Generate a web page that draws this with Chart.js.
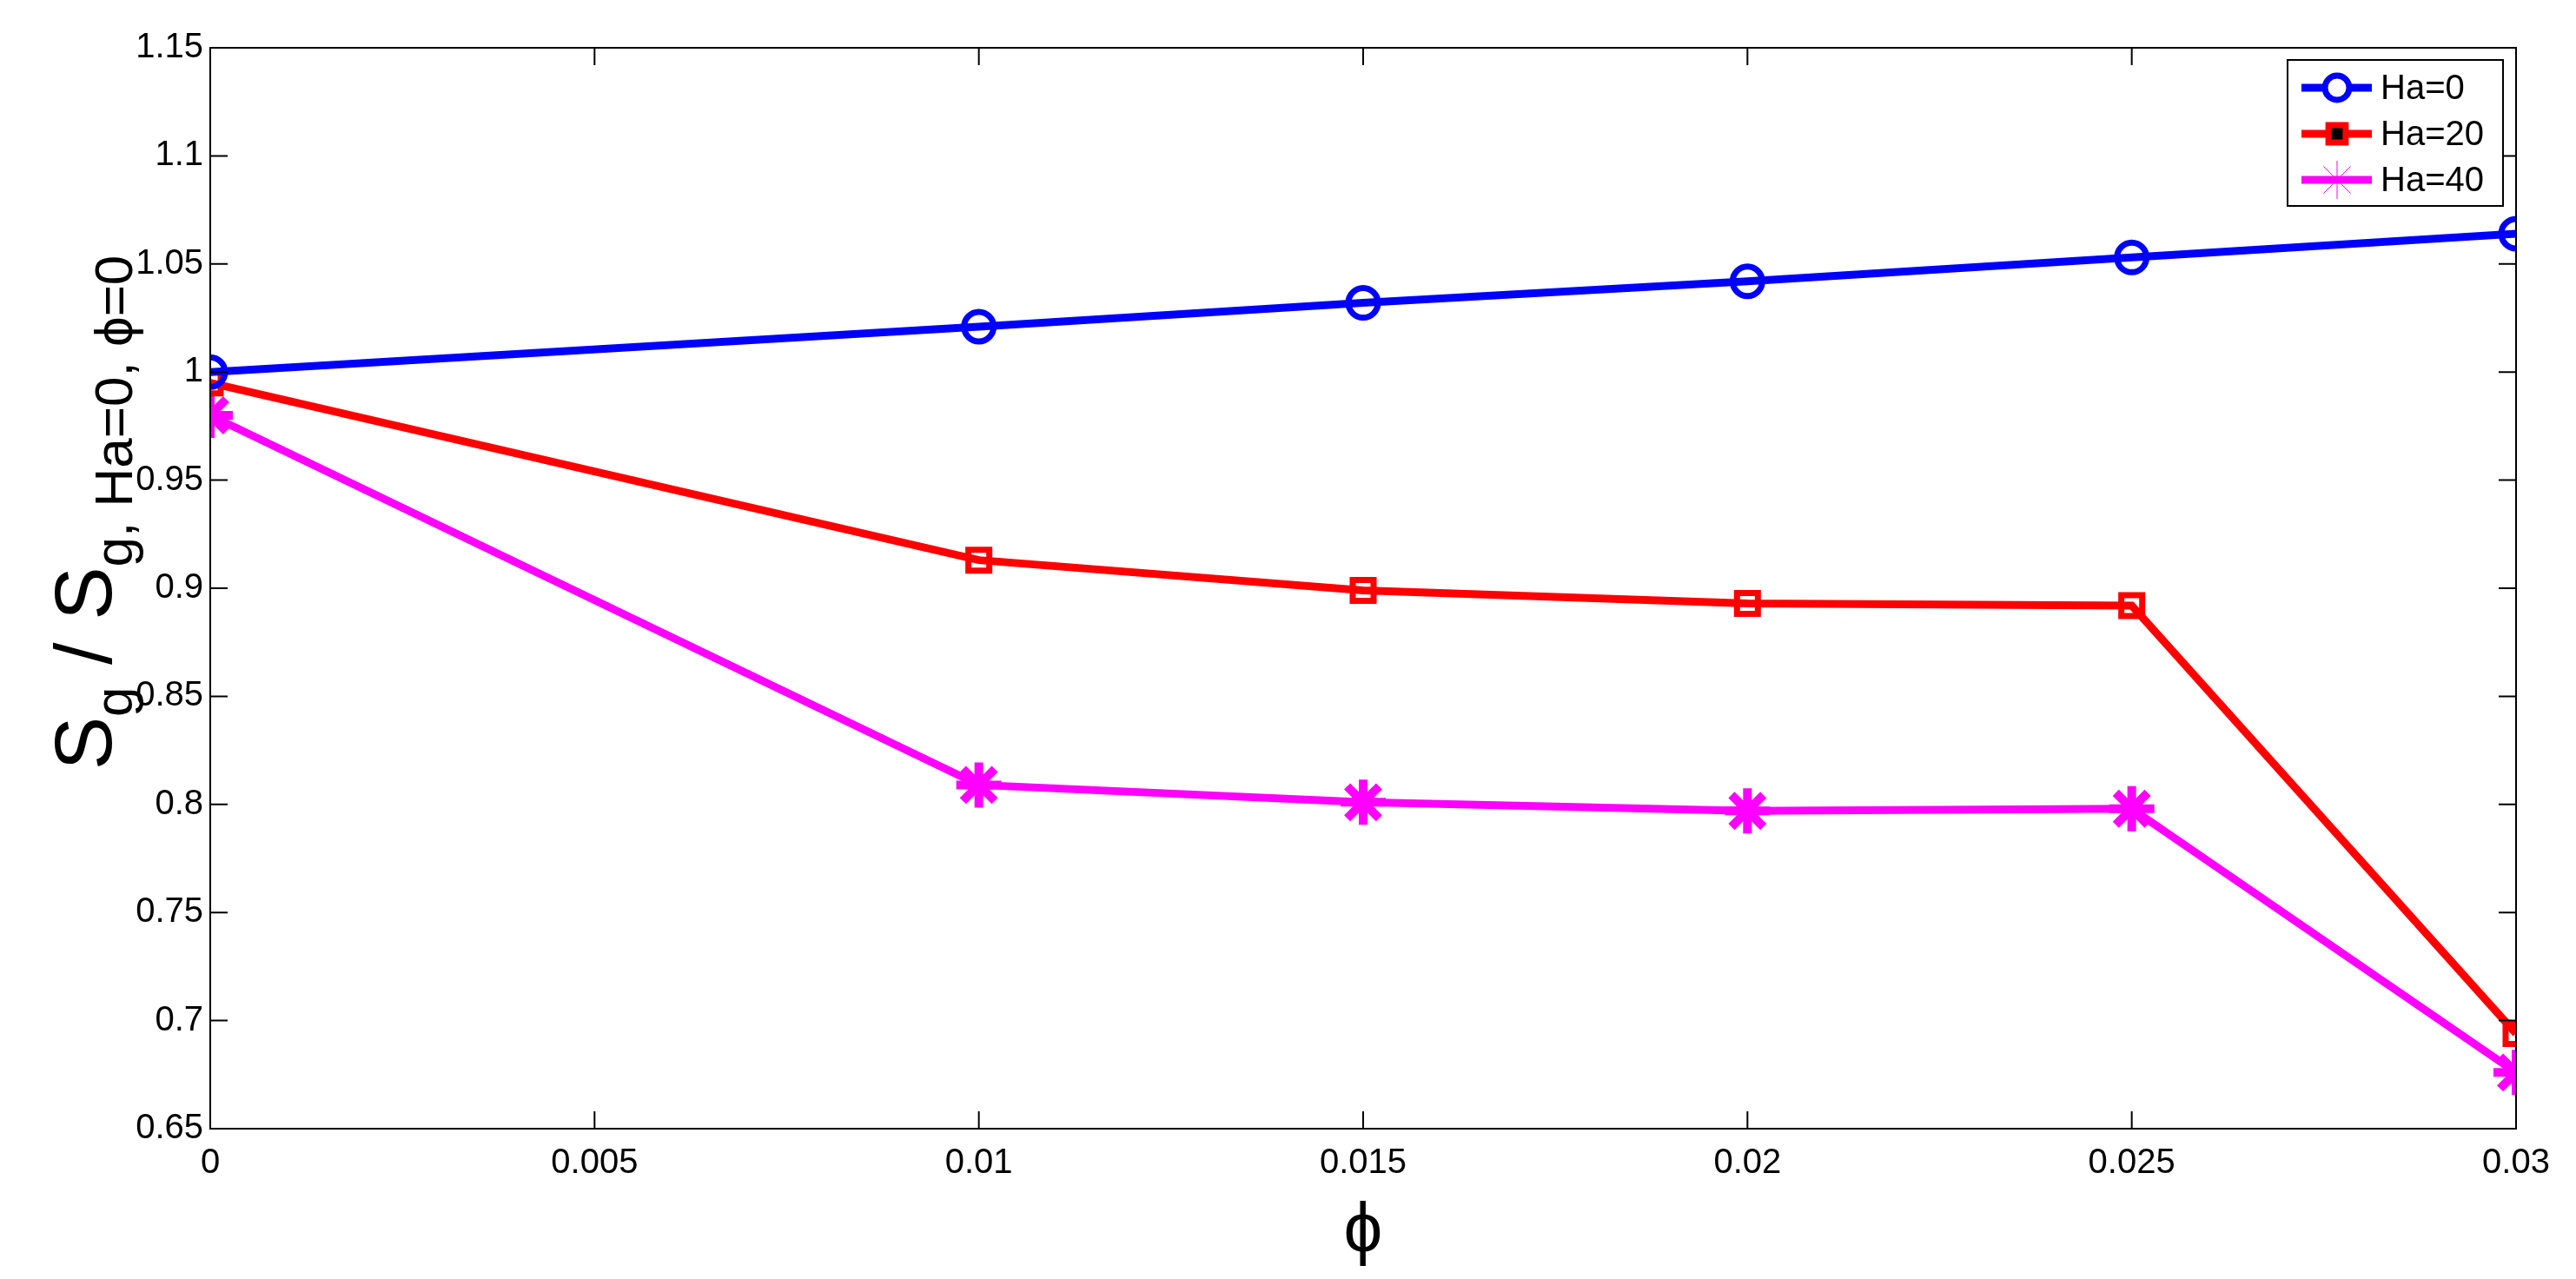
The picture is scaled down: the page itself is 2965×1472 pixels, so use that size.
<!DOCTYPE html>
<html><head><meta charset="utf-8">
<script src="https://cdn.jsdelivr.net/npm/chart.js@4/dist/chart.umd.min.js"></script>
<style>html,body{margin:0;padding:0;background:#fff}#w{width:2965px;height:1472px}</style>
</head><body><div id="w"><canvas id="c"></canvas></div>
<script>
const phi = [0, 0.01, 0.015, 0.02, 0.025, 0.03];
const ha0 = [1.000, 1.021, 1.032, 1.042, 1.053, 1.064];
const ha20 = [0.995, 0.913, 0.899, 0.893, 0.892, 0.694];
const ha40 = [0.980, 0.809, 0.801, 0.797, 0.798, 0.676];
const seriesNames = ['Ha=0', 'Ha=20', 'Ha=40'];
const xTicks = [0, 0.005, 0.01, 0.015, 0.02, 0.025, 0.03];
const yTicks = [0.65, 0.7, 0.75, 0.8, 0.85, 0.9, 0.95, 1, 1.05, 1.1, 1.15];
const F = 'Liberation Sans, Arial, sans-serif';

const mk = (arr) => arr.map((v, i) => ({x: phi[i], y: v}));
const styles = [
  {c:'#0000ff', ps:'circle', r:17},
  {c:'#ff0000', ps:'rect', r:17},
  {c:'#ff00ff', ps:'star', r:26}
];
const datasets = [ha0, ha20, ha40].map((d, i) => ({
  label: seriesNames[i], data: mk(d),
  borderColor: styles[i].c, backgroundColor: i===2 ? styles[i].c : 'rgba(0,0,0,0)',
  pointBorderColor: styles[i].c, pointBackgroundColor: i===2 ? styles[i].c : 'rgba(0,0,0,0)',
  borderWidth: 9, pointBorderWidth: i===2 ? 10 : 7, pointRadius: styles[i].r,
  pointStyle: styles[i].ps, tension: 0
}));

const deco = {
  id: 'deco',
  afterDraw(chart) {
    const ctx = chart.ctx, a = chart.chartArea, xs = chart.scales.x, ys = chart.scales.y;
    ctx.save();
    ctx.strokeStyle = '#000'; ctx.lineWidth = 2;
    ctx.strokeRect(a.left, a.top, a.right - a.left, a.bottom - a.top);
    const tl = 20;
    ctx.beginPath();
    xTicks.forEach(t => { const x = xs.getPixelForValue(t);
      ctx.moveTo(x, a.bottom); ctx.lineTo(x, a.bottom - tl); ctx.moveTo(x, a.top); ctx.lineTo(x, a.top + tl); });
    yTicks.forEach(t => { const y = ys.getPixelForValue(t);
      ctx.moveTo(a.left, y); ctx.lineTo(a.left + tl, y); ctx.moveTo(a.right, y); ctx.lineTo(a.right - tl, y); });
    ctx.stroke();
    // x title
    ctx.fillStyle = '#000'; ctx.textAlign = 'center'; ctx.textBaseline = 'alphabetic';
    ctx.font = '80px ' + F;
    ctx.fillText('ϕ', (a.left + a.right) / 2, 1440);
    // y title
    ctx.translate(128, 590); ctx.rotate(-Math.PI / 2);
    const parts = [['S', 92, 0], ['g', 62, 24], [' / S', 92, 0], ['g, Ha=0, ϕ=0', 62, 24]];
    let w = 0;
    parts.forEach(p => { ctx.font = p[1] + 'px ' + F; w += ctx.measureText(p[0]).width; });
    let x = -w / 2; ctx.textAlign = 'left';
    parts.forEach(p => { ctx.font = p[1] + 'px ' + F; ctx.fillText(p[0], x, p[2]); x += ctx.measureText(p[0]).width; });
    ctx.restore();
    // legend
    ctx.save();
    const lx = 2633, ly = 69, lw = 248, lh = 168;
    ctx.fillStyle = '#fff'; ctx.fillRect(lx, ly, lw, lh);
    ctx.strokeStyle = '#000'; ctx.lineWidth = 2; ctx.strokeRect(lx, ly, lw, lh);
    ctx.font = '40px ' + F; ctx.textBaseline = 'middle';
    datasets.forEach((d, i) => {
      const y = ly + 32 + i * 53;
      ctx.strokeStyle = d.borderColor; ctx.lineWidth = 9;
      ctx.beginPath(); ctx.moveTo(lx + 16, y); ctx.lineTo(lx + 97, y); ctx.stroke();
      const s = styles[i];
      ctx.lineWidth = i === 2 ? 1 : 7;
      Chart.helpers.drawPoint(ctx, {pointStyle: s.ps, radius: i===2 ? 22 : 14, borderWidth: 7}, lx + 57, y);
      if (i === 2) { ctx.fillStyle = s.c; ctx.fill(); }
      ctx.fillStyle = '#000';
      ctx.fillText(d.label, lx + 107, y + 2);
    });
    ctx.restore();
  }
};

new Chart(document.getElementById('c'), {
  type: 'line',
  data: { datasets },
  options: {
    responsive: true, maintainAspectRatio: false, animation: false,
    layout: { padding: { left: 0, top: 55, right: 69, bottom: 0 } },
    plugins: { legend: { display: false }, tooltip: { enabled: false } },
    scales: {
      x: { type: 'linear', min: 0, max: 0.03,
        afterFit: s => { s.height = 173; },
        afterBuildTicks: s => { s.ticks = xTicks.map(v => ({value: v})); },
        grid: { display: false, drawTicks: false }, border: { display: false },
        ticks: { font: { size: 40, family: F }, color: '#000', padding: 16, maxRotation: 0,
          callback: v => String(v) } },
      y: { type: 'linear', min: 0.65, max: 1.15,
        afterFit: s => { s.width = 242; },
        afterBuildTicks: s => { s.ticks = yTicks.map(v => ({value: v})); },
        grid: { display: false, drawTicks: false }, border: { display: false },
        ticks: { font: { size: 40, family: F }, color: '#000', padding: 8,
          callback: v => String(v) } }
    }
  },
  plugins: [deco]
});
</script></body></html>
